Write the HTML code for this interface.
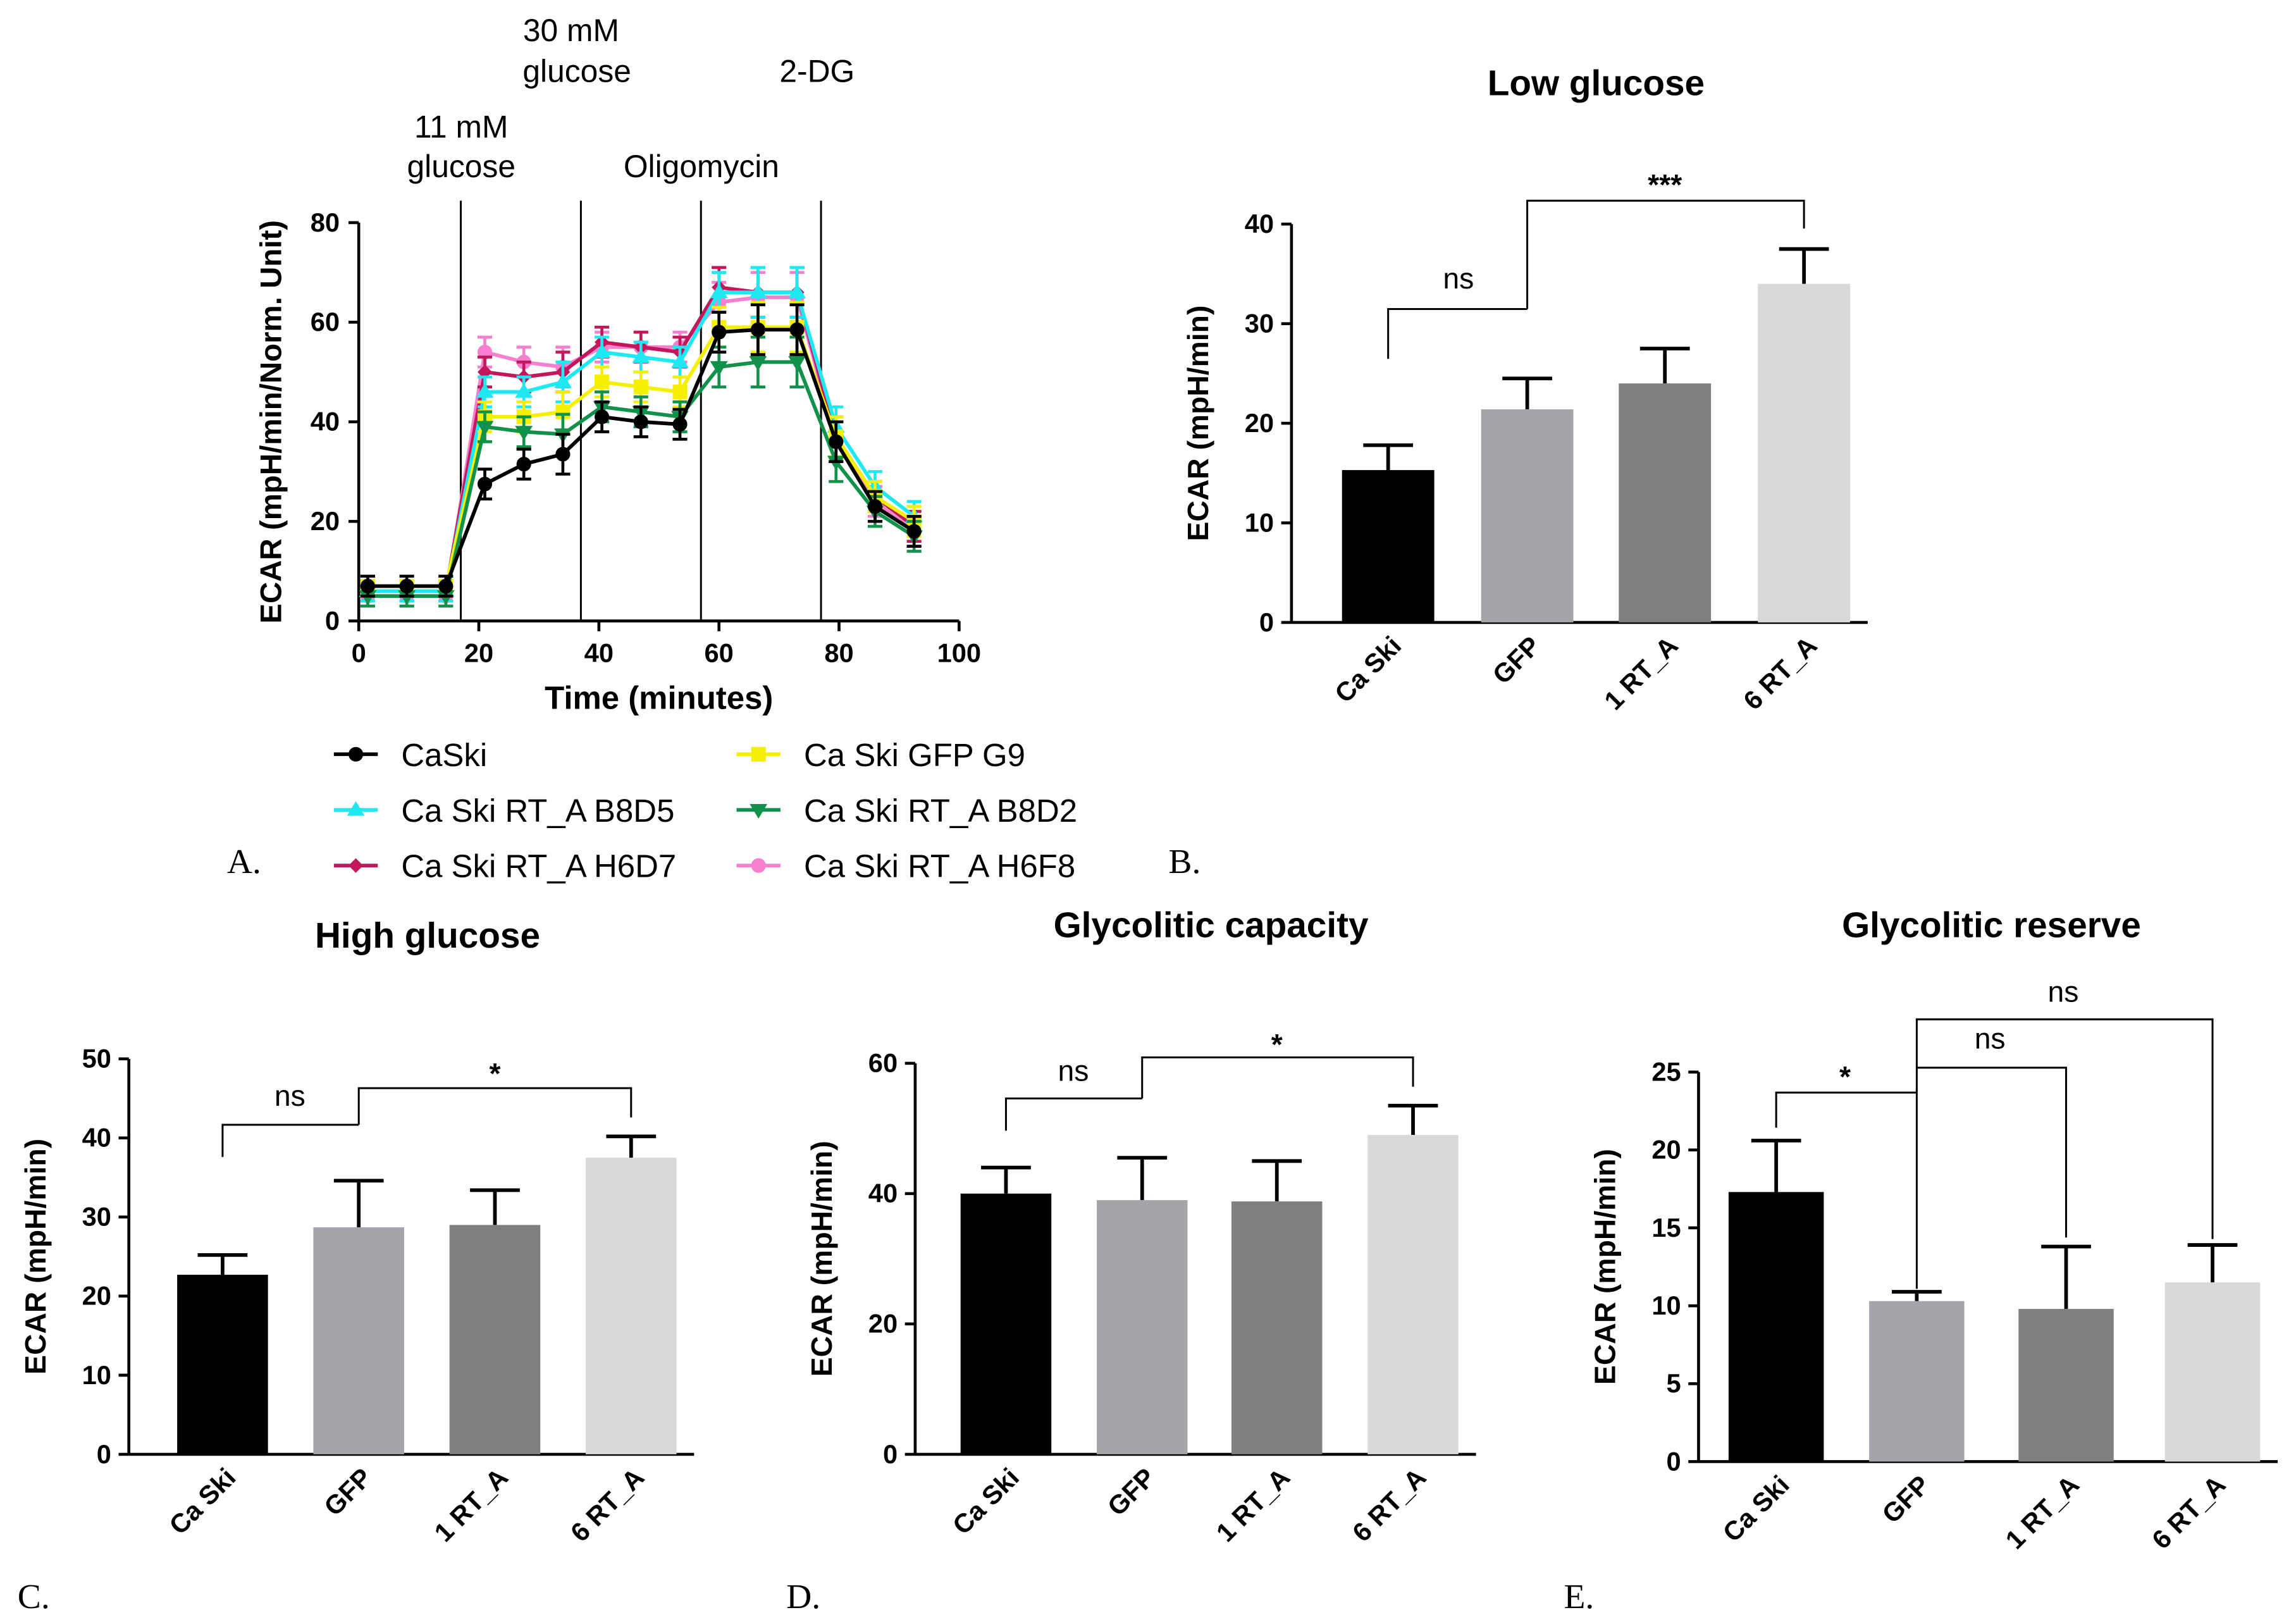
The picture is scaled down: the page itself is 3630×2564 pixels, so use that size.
<!DOCTYPE html>
<html><head><meta charset="utf-8"><style>
html,body{margin:0;padding:0;background:#fff}
svg{display:block}
text{font-family:"Liberation Sans",Arial,sans-serif}
.b{font-weight:bold}
.s{font-family:"Liberation Serif",serif}
</style></head><body>
<svg id="fig" width="3630" height="2564" viewBox="0 0 1568 1107.5" xmlns="http://www.w3.org/2000/svg"></svg>
<script>
// ---- Panel A data ----
const timePoints=[1.5,8,14.5,21,27.5,34,40.5,47,53.5,60,66.5,73,79.5,86,92.5];
const caskiVals=[7,7,7,27.5,31.5,33.5,41,40,39.5,58,58.5,58.5,36,23,18];
const gfpVals=[7,7,7,41,41,42,48,47,46,59,59,59,37,25,20];
const b8d5Vals=[6,6,6,46,46,48,54,53,52,66,66,66,39,27,21];
const b8d2Vals=[5,5,5,39,38,37.5,43,42,41,51,52,52,32,22,17];
const h6d7Vals=[6,6,6,50,49,50,56,55,54,67,66,66,37,25,19];
const h6f8Vals=[5,5,5,54,52,51,55,55,55,64,65,65,36,24,18];
const lineErr=[2,2,2,3,3,4,3,3,3,4,5,5,4,3,3];
const injTimes=[17,37,57,77];
const xTicksA=[0,20,40,60,80,100];
const yTicksA=[0,20,40,60,80];
// ---- Bar panels data ----
const barCats=["Ca Ski","GFP","1 RT_A","6 RT_A"];
const lowVals=[15.3,21.4,24,34];
const lowErr=[2.5,3.1,3.5,3.5];
const highVals=[22.7,28.7,29,37.5];
const highErr=[2.5,5.9,4.4,2.7];
const capVals=[40,39,38.8,49];
const capErr=[4,6.5,6.2,4.5];
const resVals=[17.3,10.3,9.8,11.5];
const resErr=[3.3,0.6,4,2.4];
const barColors=["#000000","#a5a4aa","#7f7f7f","#d9d9d9"];

const svg=document.getElementById('fig');
const NS="http://www.w3.org/2000/svg";
function el(tag,attrs,parent){const e=document.createElementNS(NS,tag);for(const k in attrs)e.setAttribute(k,attrs[k]);(parent||svg).appendChild(e);return e;}
function txt(s,x,y,attrs,parent){const t=el('text',Object.assign({x:x,y:y},attrs),parent);t.textContent=s;return t;}

// ===== Panel A =====
const gA=el('g',{});


const ax=v=>245+v*4.1, ay=v=>424-v*3.4;
el('line',{x1:245,y1:152,x2:245,y2:424,stroke:'#000','stroke-width':2},gA);
el('line',{x1:245,y1:424,x2:655,y2:424,stroke:'#000','stroke-width':2},gA);
yTicksA.forEach(v=>{el('line',{x1:238,x2:245,y1:ay(v),y2:ay(v),stroke:'#000','stroke-width':2},gA);
 const t=txt(v,232,ay(v)+6,{'font-size':18,'text-anchor':'end',class:'b'},gA);
 });
xTicksA.forEach(v=>{el('line',{x1:ax(v),x2:ax(v),y1:424,y2:431,stroke:'#000','stroke-width':2},gA);
 const t=txt(v,ax(v),452,{'font-size':18,'text-anchor':'middle',class:'b'},gA);
 });
injTimes.forEach(v=>{const l=el('line',{x1:ax(v),x2:ax(v),y1:137,y2:424,stroke:'#000','stroke-width':1.3},gA);
 });
[["11 mM",315,94],["glucose",315,121],["30 mM",390,28],["glucose",394,56],["Oligomycin",479,121],["2-DG",558,56]].forEach(a=>{
 const t=txt(a[0],a[1],a[2],{'font-size':21.5,'text-anchor':'middle'},gA);
 });
let t=txt("ECAR (mpH/min/Norm. Unit)",0,0,{'font-size':20.5,class:'b','text-anchor':'middle',transform:'translate(192,288) rotate(-90)'},gA);

t=txt("Time (minutes)",450,484,{'font-size':22,class:'b','text-anchor':'middle'},gA);


const seriesList=[
 {name:"Ca Ski RT_A H6F8",vals:h6f8Vals,color:"#f77fd0",m:'circle'},
 {name:"Ca Ski RT_A H6D7",vals:h6d7Vals,color:"#c2185b",m:'diamond'},
 {name:"Ca Ski RT_A B8D5",vals:b8d5Vals,color:"#1ee8f2",m:'tri'},
 {name:"Ca Ski GFP G9",vals:gfpVals,color:"#f4f000",m:'square'},
 {name:"Ca Ski RT_A B8D2",vals:b8d2Vals,color:"#10924a",m:'tridown'},
 {name:"CaSki",vals:caskiVals,color:"#000000",m:'circle'}];
function marker(type,x,y,c,parent){
 let m;
 if(type==='circle')m=el('circle',{cx:x,cy:y,r:5,fill:c},parent);
 else if(type==='square')m=el('rect',{x:x-5,y:y-5,width:10,height:10,fill:c},parent);
 else if(type==='diamond')m=el('polygon',{points:`${x},${y-5} ${x+5},${y} ${x},${y+5} ${x-5},${y}`,fill:c},parent);
 else if(type==='tri')m=el('polygon',{points:`${x},${y-6} ${x+6},${y+4} ${x-6},${y+4}`,fill:c},parent);
 else m=el('polygon',{points:`${x},${y+6} ${x+6},${y-4} ${x-6},${y-4}`,fill:c},parent);
 return m;}
seriesList.forEach(s=>{
 const g=el('g',{},gA);
 
 
 s.vals.forEach((v,i)=>{const x=ax(timePoints[i]);
  el('line',{x1:x,x2:x,y1:ay(v+lineErr[i]),y2:ay(v-lineErr[i]),stroke:s.color,'stroke-width':2},g);
  el('line',{x1:x-5,x2:x+5,y1:ay(v+lineErr[i]),y2:ay(v+lineErr[i]),stroke:s.color,'stroke-width':2},g);
  el('line',{x1:x-5,x2:x+5,y1:ay(v-lineErr[i]),y2:ay(v-lineErr[i]),stroke:s.color,'stroke-width':2},g);});
 el('polyline',{points:s.vals.map((v,i)=>ax(timePoints[i])+','+ay(v)).join(' '),fill:'none',stroke:s.color,'stroke-width':2.5},g);
 s.vals.forEach((v,i)=>{const m=marker(s.m,ax(timePoints[i]),ay(v),s.color,g);
  });
});
// Legend
const legend=[["CaSki","#000","circle",228,515],["Ca Ski RT_A B8D5","#1ee8f2","tri",228,553],["Ca Ski RT_A H6D7","#c2185b","diamond",228,591],
["Ca Ski GFP G9","#f4f000","square",503,515],["Ca Ski RT_A B8D2","#10924a","tridown",503,553],["Ca Ski RT_A H6F8","#f77fd0","circle",503,591]];
legend.forEach(l=>{const g=el('g',{});
 
 el('line',{x1:l[3],x2:l[3]+30,y1:l[4],y2:l[4],stroke:l[1],'stroke-width':2.5},g);
 marker(l[2],l[3]+15,l[4],l[1],g);
 txt(l[0],l[3]+46,l[4]+8,{'font-size':22},g);});

// ===== Bar panels =====
function barPanel(cfg){
 const g=el('g',{});
 
 const y=v=>cfg.y0-v*cfg.ppu;
 const top=y(cfg.ticks[cfg.ticks.length-1]);
 el('line',{x1:cfg.axX,x2:cfg.axX,y1:top,y2:cfg.y0,stroke:'#000','stroke-width':2},g);
 el('line',{x1:cfg.axX,x2:cfg.xs[3]+cfg.w/2+12,y1:cfg.y0,y2:cfg.y0,stroke:'#000','stroke-width':2},g);
 cfg.ticks.forEach(v=>{el('line',{x1:cfg.axX-7,x2:cfg.axX,y1:y(v),y2:y(v),stroke:'#000','stroke-width':2},g);
  const tt=txt(v,cfg.axX-12,y(v)+6,{'font-size':18,'text-anchor':'end',class:'b'},g);
  });
 cfg.vals.forEach((v,i)=>{const x=cfg.xs[i];
  const eT=y(v+cfg.err[i]);
  const ln=el('line',{x1:x,x2:x,y1:eT,y2:y(v),stroke:'#000','stroke-width':2.5},g);
  
  el('line',{x1:x-17,x2:x+17,y1:eT,y2:eT,stroke:'#000','stroke-width':2.5},g);
  const r=el('rect',{x:x-cfg.w/2,y:y(v),width:cfg.w,height:cfg.y0-y(v),fill:barColors[i]},g);
  
  
  const lt=txt(barCats[i],0,0,{'font-size':18,class:'b','text-anchor':'end',transform:`translate(${x+10},${cfg.y0+17}) rotate(-45)`},g);
  });
 const yt=txt("ECAR (mpH/min)",0,0,{'font-size':20,class:'b','text-anchor':'middle',transform:`translate(${cfg.axX-57},${(top+cfg.y0)/2}) rotate(-90)`},g);
 
 const ti=txt(cfg.title,cfg.titleX,cfg.titleY,{'font-size':24.5,class:'b','text-anchor':'middle'},g);
 
 cfg.brackets.forEach(b=>{const bg=el('g',{},g);
  
  el('polyline',{points:b.pts,fill:'none',stroke:'#000','stroke-width':1.3},bg);
  txt(b.lab,b.tx,b.ty,{'font-size':b.lab==='ns'?20:20,class:b.lab==='ns'?'':'b','text-anchor':'middle'},bg);});
}
barPanel({name:'panel-b-low-glucose',axX:882,y0:425,ppu:6.8,ticks:[0,10,20,30,40],xs:[948,1043,1137,1232],w:63,vals:lowVals,err:lowErr,
 title:"Low glucose",titleX:1090,titleY:65,
 brackets:[{pts:"948,245 948,211 1043,211",lab:"ns",tx:996,ty:197},{pts:"1043,211 1043,137 1232,137 1232,156",lab:"***",tx:1137,ty:133}]});
barPanel({name:'panel-c-high-glucose',axX:88,y0:993,ppu:5.4,ticks:[0,10,20,30,40,50],xs:[152,245,338,431],w:62,vals:highVals,err:highErr,
 title:"High glucose",titleX:292,titleY:647,
 brackets:[{pts:"152,790 152,768 245,768",lab:"ns",tx:198,ty:755},{pts:"245,768 245,743 431,743 431,763",lab:"*",tx:338,ty:740}]});
barPanel({name:'panel-d-glycolitic-capacity',axX:625,y0:993,ppu:4.45,ticks:[0,20,40,60],xs:[687,780,872,965],w:62,vals:capVals,err:capErr,
 title:"Glycolitic capacity",titleX:827,titleY:640,
 brackets:[{pts:"687,772 687,750 780,750",lab:"ns",tx:733,ty:738},{pts:"780,750 780,722 965,722 965,742",lab:"*",tx:872,ty:720}]});
barPanel({name:'panel-e-glycolitic-reserve',axX:1160,y0:998,ppu:10.64,ticks:[0,5,10,15,20,25],xs:[1213,1309,1411,1511],w:65,vals:resVals,err:resErr,
 title:"Glycolitic reserve",titleX:1360,titleY:640,
 brackets:[{pts:"1213,770 1213,746 1309,746",lab:"*",tx:1260,ty:742},{pts:"1309,880 1309,696 1511,696 1511,846",lab:"ns",tx:1409,ty:684},{pts:"1309,729 1411,729 1411,845",lab:"ns",tx:1359,ty:716}]});

// panel letters
[["A.",155,596],["B.",798,596],["C.",12,1098],["D.",537,1098],["E.",1068,1098]].forEach(l=>{
 const tt=txt(l[0],l[1],l[2],{'font-size':24,class:'s'});
 });
</script>
</body></html>
